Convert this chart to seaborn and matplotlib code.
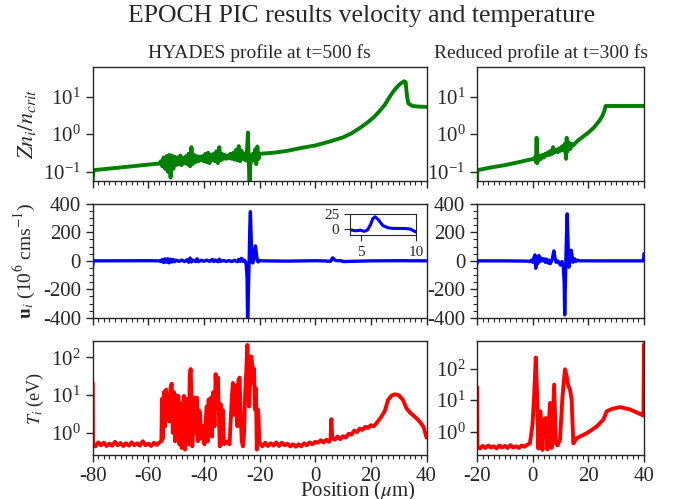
import matplotlib
matplotlib.use("Agg")
import matplotlib.pyplot as plt
from matplotlib.ticker import MultipleLocator, NullLocator
import seaborn as sns

# ---- data ----
# ion density Z n_i / n_crit, HYADES profile (t=500 fs)
dens_hy_x = [-80, -79.7, -70, -60, -56, -55.5, -55, -54.5, -54, -53.5, -53, -52.5, -52, -51.5, -51,
             -50.5, -50, -49.5, -49, -48.5, -48, -47.5, -47, -46.5, -46, -45.5, -45, -44.5, -44,
             -43.5, -43, -42.5, -42, -41.5, -41, -40.5, -40, -39.5, -39, -38.5, -38, -37.5, -37,
             -36.5, -36, -35.5, -35, -34.5, -34, -33.5, -33, -32.5, -32, -31.5, -31, -30.5, -30,
             -29.5, -29, -28.5, -28, -27.5, -27, -26.5, -26, -25.5, -25, -24.5, -24.2, -23.9,
             -23.6, -23.3, -23, -22.5, -22, -21.5, -21.2, -20.8, -20.4, -20, -15, -10, -5, 0, 5,
             10, 13, 16, 19, 21, 23, 25, 27, 28.5, 30, 31, 32, 32.5, 33, 33.5, 35, 37, 40]
dens_hy_y = [0.06, 0.11, 0.13, 0.155, 0.165, 0.19, 0.14, 0.24, 0.12, 0.26, 0.10, 0.28, 0.07, 0.27, 0.12,
             0.25, 0.15, 0.24, 0.16, 0.27, 0.15, 0.23, 0.17, 0.26, 0.16, 0.30, 0.14, 0.45, 0.16,
             0.28, 0.18, 0.26, 0.19, 0.25, 0.20, 0.26, 0.19, 0.30, 0.18, 0.32, 0.17, 0.28, 0.20,
             0.30, 0.19, 0.35, 0.17, 0.45, 0.20, 0.30, 0.22, 0.28, 0.22, 0.27, 0.23, 0.30, 0.22,
             0.32, 0.21, 0.38, 0.20, 0.48, 0.19, 0.36, 0.22, 0.30, 0.20, 0.40, 1.1, 0.20,
             0.04, 0.25, 0.18, 0.30, 0.20, 0.40, 0.16, 0.47, 0.22, 0.30, 0.32, 0.36, 0.43, 0.50, 0.63,
             0.82, 1.05, 1.45, 2.1, 2.8, 4.0, 6.0, 10.5, 15, 20, 23, 25.5, 24, 10, 6.5, 5.6, 5.4, 5.3]

# ion density, reduced profile (t=300 fs)
dens_rd_x = [-20, -19.9, -15, -10, -5, -1, 0.5, 1.0, 1.2, 1.4, 1.6, 1.8, 2.2, 2.6, 3, 3.5, 4, 4.5, 5,
             5.5, 6, 6.5, 7, 7.3, 7.6, 8, 8.5, 9, 9.5, 10, 10.5, 11, 11.5, 12, 12.2, 12.5, 13, 13.5,
             14, 14.5, 16, 18, 20, 22, 24, 25, 25.8, 26.2, 30, 35, 40]
dens_rd_y = [0.04, 0.11, 0.13, 0.15, 0.18, 0.21, 0.22, 0.25, 0.18, 0.8, 0.17, 0.26, 0.20, 0.27, 0.22,
             0.28, 0.24, 0.30, 0.27, 0.33, 0.28, 0.36, 0.30, 0.45, 0.32, 0.35, 0.38, 0.33, 0.42, 0.36,
             0.47, 0.37, 0.55, 0.22, 0.8, 0.35, 0.60, 0.40, 0.55, 0.50, 0.65, 0.85, 1.1, 1.5, 2.3,
             3.0, 4.2, 5.6, 5.6, 5.6, 5.6]

# ion velocity (1e6 cm/s), HYADES profile
vel_hy_x = [-80, -79.8, -60, -56, -55.5, -55, -54.5, -54, -53.5, -53, -52.5, -52, -51.5, -51, -50.5,
            -50, -49, -48, -47, -46, -45.5, -45, -44.5, -44, -43, -42.5, -42, -41, -40, -39, -38,
            -37, -36.5, -36, -35, -34.5, -34, -33, -32, -31, -30, -29, -28, -27.5, -27, -26.5, -26,
            -25.5, -25, -24.8, -24.5, -24.3, -24.0, -23.7, -23.5, -23.3, -23.0, -22.7, -22.4, -22,
            -21.7, -21.5, -21.2, -20.8, -20.5, -20, -19, -10, 0, 4, 4.5, 5, 5.3, 5.6, 5.9, 6.1, 6.3,
            6.6, 7, 7.5, 8, 9, 9.5, 10, 20, 30, 40]
vel_hy_y = [-40, 0, 1, 0, -5, 10, -12, 14, -10, 15, -14, 12, -8, 10, -6,
            5, -4, 6, -5, 8, -10, 20, -8, 6, -5, 15, -6, 4, -3, 5, -4,
            10, -5, 6, -6, 12, -4, 3, -4, 2, -5, 4, -6, 10, -3, 18, -4,
            5, -8, -30, -120, -450, -200, 50, 250, 345, 150, -10, -15, 20,
            80, 105, 60, 0, -8, 3, 0, -2, 1, -1, -3, -2, -4, -2, 8, 18, 21,
            16, 6, 2, 1, 1, 0, -5, 0, 1, 0]

# ion velocity, reduced profile
vel_rd_x = [-20, -19.9, -10, -2, -1, -0.5, 0, 0.4, 0.8, 1.1, 1.4, 1.8, 2.2, 2.6, 3, 3.5, 4, 4.5, 5,
            5.5, 6, 6.3, 7, 7.6, 8, 8.4, 9, 9.5, 10, 10.5, 11, 11.3, 11.5, 11.8, 12.1, 12.4, 12.7,
            13, 13.4, 13.8, 14.1, 14.5, 15, 15.5, 16, 17, 20, 30, 39.8, 40]
vel_rd_y = [-20, 0, 0, -2, -5, 5, -10, 20, 42, -52, 30, -20, 38, -5, 20, 0, 15, -10, 12,
            -15, 5, -20, 10, 70, 20, -10, 0, -15, -30, -5, -40, -150, -380, -100, 150, 330, 120,
            -45, 10, 75, 40, -10, 15, -5, 5, 0, 0, 0, 0, 50]

# ion temperature (eV), HYADES profile
temp_hy_x = [-80, -79.9, -79, -78, -77, -76, -75, -74, -73, -72, -71, -70, -69, -68, -67, -66, -65,
             -64, -63, -62, -61, -60, -59, -58, -57, -56,
             -55.3, -55.1, -54.8, -54.4, -54, -53.6, -53.2, -52.8, -52.4, -52, -51.6, -51.2, -50.8,
             -50.4, -50, -49.6, -49.2, -48.8, -48.4, -48, -47.6, -47.2, -46.8, -46.4, -46, -45.5,
             -45.1, -44.8, -44.5, -44.2, -43.8, -43.3, -43, -42.6, -42.2, -41.8, -41.4, -41, -40.5,
             -40.2, -39.8, -39.4, -39, -38.6, -38.3, -37.9, -37.5, -37.1, -36.7, -36.2, -35.8, -35.4,
             -35, -34.6, -34.3, -34, -33.6, -33.2, -32.8, -32.2, -31.5, -30.8, -30.4, -30, -29.6,
             -29.2, -28.8, -28.4, -28, -27.6, -27.2, -26.8, -26.4, -26, -25.6, -25.2, -24.8, -24.4,
             -24.1, -23.8, -23.4, -23, -22.6, -22.3, -22, -21.7, -21.3, -21, -20.7, -20.4, -20.1,
             -19.6, -19, -18, -17, -16, -15, -14, -13, -12, -11, -10, -9, -8, -7, -6, -5, -4, -3, -2,
             -1, 0, 1, 2, 3, 4, 5, 5.5, 5.8, 6.1, 7, 8, 9, 10, 11, 12, 13, 14, 15, 16, 17, 18, 19, 20,
             21, 22, 23.5, 25, 26.2, 27.5, 28.6, 30, 31.5, 32.8, 34, 35, 36, 37, 38, 39, 40]
temp_hy_y = [21, 0.5, 0.44, 0.56, 0.47, 0.55, 0.45, 0.52, 0.46, 0.58, 0.47, 0.54, 0.45, 0.53, 0.46,
             0.56, 0.47, 0.53, 0.46, 0.6, 0.47, 0.52, 0.45, 0.55, 0.48, 0.56,
             0.6, 8, 0.7, 12, 1.5, 14, 3, 10, 2, 16, 20, 1, 12,
             0.6, 10, 2, 9.5, 0.5, 6, 0.4, 3, 9.5, 0.36, 8, 1, 0.5,
             30, 49, 10, 0.44, 2, 8.6, 1, 8.6, 0.6, 4, 3.4, 0.7, 1.5,
             0.8, 0.5, 2, 5, 0.6, 7.7, 1.2, 8.6, 0.8, 12, 1.5, 36, 5,
             29, 3, 0.44, 5.7, 0.8, 4, 0.5, 0.54, 0.6, 0.5, 2, 8, 21,
             3, 18, 11.6, 1.5, 25, 29, 3, 0.6, 0.44, 0.9, 10, 40, 213,
             50, 5, 30, 106, 60, 21, 50, 4.2, 15, 0.36, 4.2, 3, 0.54,
             0.5, 0.44, 0.55, 0.45, 0.53, 0.46, 0.56, 0.45, 0.55, 0.47, 0.52, 0.44, 0.5, 0.43, 0.5, 0.44,
             0.53, 0.47, 0.56, 0.5, 0.58, 0.55, 0.64, 0.56, 0.66, 0.58, 0.7, 2.3, 0.74, 0.66, 0.8,
             0.68, 0.82, 0.75, 0.95, 0.9, 1.15, 1.05, 1.3, 1.2, 1.45, 1.35, 1.6, 1.5, 1.8, 2.5,
             3.8, 7.5, 9.8, 10.5, 10, 7.5, 4.5, 3.5, 3.0, 2.6, 2.2, 1.8, 1.4, 0.75]

# ion temperature, reduced profile
temp_rd_x = [-20, -19.9, -19, -18, -17, -16, -15, -14, -13, -12, -11, -10, -9, -8, -7, -6, -5, -4,
             -3, -2, -1, -0.1, 0.5, 1.1, 1.6, 2, 2.8,
             3.5, 4, 4.7, 5.3, 6.2, 6.8, 7.7, 8.3, 8.9, 9.8, 10.7, 11.6, 12.2, 12.8, 13.4, 14, 14.6,
             15.8, 17, 19.4, 21, 23, 25.4, 26.6, 28.4, 31.4, 35, 37, 39.2, 39.8, 40]
temp_rd_y = [26, 0.33, 0.29, 0.35, 0.3, 0.36, 0.31, 0.34, 0.29, 0.36, 0.31, 0.35, 0.3, 0.37, 0.31,
             0.34, 0.3, 0.36, 0.33, 0.38, 0.42, 1.6, 13, 225, 13, 0.29, 4.4,
             0.26, 2.4, 2.7, 0.27, 8.1, 0.3, 31, 0.42, 0.36, 0.54, 13, 95, 58, 28, 22,
             10, 0.42, 0.61, 0.7, 0.88, 1.1, 1.45, 2.4, 4.4, 5.2, 6.0, 5.0, 4.2, 3.4, 3.2, 600]

sns.set_style("ticks")
plt.rcParams["font.family"] = ["Liberation Serif", "DejaVu Serif"]
plt.rcParams["mathtext.fontset"] = "stix"
plt.rcParams["axes.unicode_minus"] = False

fig, axes = plt.subplots(3, 2, sharex="col", figsize=(6.84, 4.99), dpi=100,
                         gridspec_kw={"width_ratios": [2, 1]})
fig.subplots_adjust(left=0.1355, right=0.9415, top=0.8663, bottom=0.0882,
                    wspace=0.202, hspace=0.204)


def line(ax, x, y, color, lw):
    sns.lineplot(x=x, y=y, ax=ax, color=color, lw=lw, sort=False, estimator=None)


line(axes[0, 0], dens_hy_x, dens_hy_y, "green", 2.8)
line(axes[0, 1], dens_rd_x, dens_rd_y, "green", 2.8)
line(axes[1, 0], vel_hy_x, vel_hy_y, "blue", 2.4)
line(axes[1, 1], vel_rd_x, vel_rd_y, "blue", 2.4)
line(axes[2, 0], temp_hy_x, temp_hy_y, "red", 2.8)
line(axes[2, 1], temp_rd_x, temp_rd_y, "red", 2.8)

for ax in axes[0]:
    ax.set_yscale("log")
    ax.set_ylim(0.058, 62)
for ax in axes[2]:
    ax.set_yscale("log")
axes[2, 0].set_ylim(0.26, 270)
axes[2, 1].set_ylim(0.18, 750)
for ax in axes[1]:
    ax.set_ylim(-400, 400)
    ax.set_yticks([-400, -200, 0, 200, 400])
    ax.yaxis.set_minor_locator(MultipleLocator(50))

axes[0, 0].set_xlim(-80, 40)
axes[0, 1].set_xlim(-20, 40)
axes[2, 0].set_xticks([-80, -60, -40, -20, 0, 20, 40])
axes[2, 1].set_xticks([-20, 0, 20, 40])

for ax in axes.flat:
    ax.xaxis.set_minor_locator(MultipleLocator(2))
    if ax.get_yscale() == "log":
        ax.yaxis.set_minor_locator(NullLocator())
    ax.tick_params(which="major", length=5, width=1, labelsize=15)
    ax.tick_params(which="minor", length=3, width=0.8)
    ax.set_xlabel("")
    ax.set_ylabel("")
    for s in ax.spines.values():
        s.set_linewidth(1.0)

axes[0, 0].set_ylabel(r"$Zn_i/n_{crit}$", fontsize=16)
axes[1, 0].set_ylabel(r"$\mathbf{u}_i$ (10$^6$ cms$^{-1}$)", fontsize=14)
axes[2, 0].set_ylabel(r"$T_i$ (eV)", fontsize=13)

axes[0, 0].set_title("HYADES profile at t=500 fs", fontsize=14)
axes[0, 1].set_title("Reduced profile at t=300 fs", fontsize=14, x=0.385)
fig.suptitle("EPOCH PIC results velocity and temperature", fontsize=18.5, x=0.528, y=0.99)
fig.text(0.523, 0.006, r"Position ($\mu$m)", ha="center", va="baseline", fontsize=15)

# inset: zoom on the small velocity bump
axin = axes[1, 0].inset_axes([0.770, 0.723, 0.198, 0.189])
line(axin, vel_hy_x, vel_hy_y, "blue", 2.2)
axin.set_xlim(4, 10)
axin.set_ylim(-11, 26)
axin.set_xticks([5, 10])
axin.set_yticks([0, 25])
axin.set_xlabel("")
axin.set_ylabel("")
axin.tick_params(labelsize=11, length=4)

fig.savefig("out.png", dpi=100)
